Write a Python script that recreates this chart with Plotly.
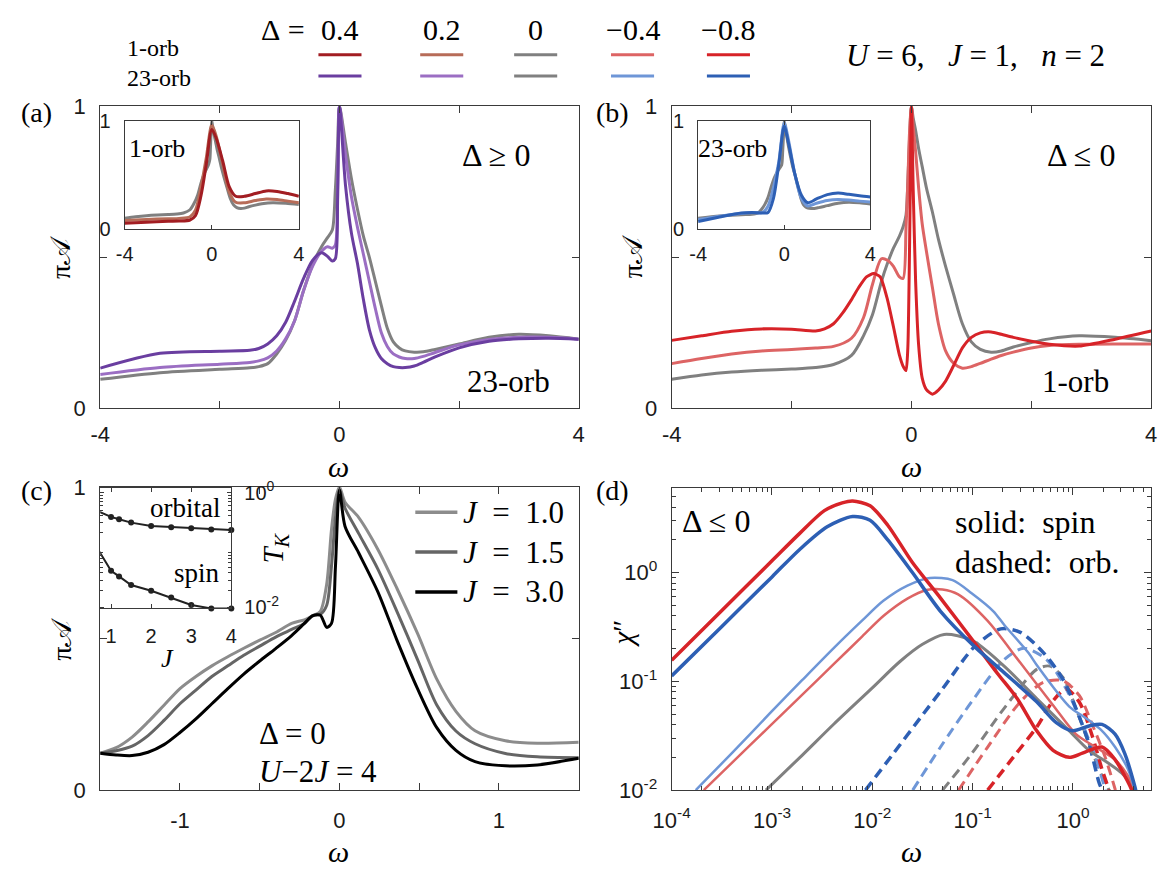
import plotly.graph_objects as go

W, H = 1165, 875
SERIF = "Liberation Serif"
SANS = "Liberation Sans"
AXC = "#3a3a3a"
NB = "\u00a0"

# ---------------- colours ----------------
C_GRAY = "#808080"
C_DRED = "#a21d22"   # 1-orb, Delta=0.4
C_BRWN = "#b76c58"   # 1-orb, Delta=0.2
C_LRED = "#dd6464"   # 1-orb, Delta=-0.4
C_RED = "#d72328"    # 1-orb, Delta=-0.8
C_DPUR = "#6a3ea0"   # 23-orb, Delta=0.4
C_LPUR = "#9b6ec3"   # 23-orb, Delta=0.2
C_LBLU = "#6e96d7"   # 23-orb, Delta=-0.4
C_BLU = "#2d5fb4"    # 23-orb, Delta=-0.8
C_J10 = "#8c8c8c"
C_J15 = "#656565"
C_J30 = "#000000"

# ---------------- data: panel (a), 23-orb, Delta >= 0 ----------------
omega_a = [-4, -3, -2, -1.5, -1.35, -1.2, -1.05, -0.9, -0.75, -0.6, -0.45, -0.3, -0.2, -0.12, -0.07,
           -0.03, 0, 0.1, 0.2, 0.3, 0.4, 0.5, 0.6, 0.7, 0.8, 0.9, 1.0, 1.1, 1.25, 1.4, 1.6, 2, 2.5, 3,
           3.5, 4]
A23_d0 = [0.096, 0.118, 0.129, 0.134, 0.138, 0.148, 0.18, 0.225, 0.29, 0.39, 0.475, 0.535, 0.565, 0.59,
          0.72, 0.88, 1.0,
          0.88, 0.76, 0.66, 0.57, 0.50, 0.42, 0.34, 0.265, 0.22, 0.20, 0.19, 0.186, 0.187, 0.195, 0.213,
          0.235, 0.245, 0.24, 0.229]
A23_d02 = [0.112, 0.135, 0.146, 0.152, 0.157, 0.167, 0.19, 0.23, 0.29, 0.39, 0.47, 0.52, 0.535, 0.53,
           0.54, 0.75, 1.0,
           0.84, 0.70, 0.60, 0.51, 0.42, 0.33, 0.25, 0.205, 0.18, 0.17, 0.165, 0.165, 0.172, 0.185, 0.21,
           0.228, 0.235, 0.235, 0.229]
A23_d04 = [0.133, 0.182, 0.189, 0.192, 0.198, 0.213, 0.24, 0.285, 0.355, 0.43, 0.49, 0.515, 0.503,
           0.488, 0.495, 0.70, 1.0,
           0.74, 0.58, 0.48, 0.36, 0.26, 0.20, 0.165, 0.148, 0.138, 0.135, 0.135, 0.14, 0.152, 0.17, 0.20,
           0.222, 0.23, 0.232, 0.229]

# ---------------- data: panel (b), 1-orb, Delta <= 0 ----------------
omega_b = [-4, -3.5, -3, -2.5, -2, -1.6, -1.3, -1.0, -0.8, -0.65, -0.5, -0.4, -0.3, -0.2, -0.14, -0.09,
           -0.06, -0.03, 0, 0.03, 0.07, 0.12, 0.18, 0.25, 0.35, 0.45, 0.57, 0.7, 0.85, 1.0, 1.15, 1.33,
           1.5, 1.7, 2.0, 2.3, 2.8, 3.4, 4]
A1_d0 = [0.096, 0.11, 0.12, 0.126, 0.13, 0.135, 0.145, 0.175, 0.24, 0.31, 0.42, 0.48, 0.53, 0.57, 0.60,
         0.64, 0.75, 0.9, 1.0, 0.96, 0.92, 0.86, 0.80, 0.73, 0.65, 0.56, 0.47, 0.38, 0.28, 0.22, 0.195,
         0.186, 0.19, 0.203, 0.218, 0.23, 0.24, 0.235, 0.224]
A1_dm04 = [0.148, 0.165, 0.18, 0.19, 0.195, 0.2, 0.205, 0.232, 0.3, 0.41, 0.495, 0.49, 0.47, 0.435, 0.43,
           0.6, 0.75, 0.92, 1.0, 0.93, 0.85, 0.73, 0.61, 0.52, 0.40, 0.28, 0.19, 0.15, 0.133, 0.138,
           0.149, 0.163, 0.175, 0.186, 0.2, 0.208, 0.212, 0.213, 0.213]
omega_b8 = [-4, -3.5, -3, -2.5, -2, -1.6, -1.45, -1.3, -1.15, -1.0, -0.88, -0.75, -0.63, -0.52, -0.4,
            -0.3, -0.2, -0.14, -0.09, -0.06, -0.03, 0, 0.03, 0.07, 0.12, 0.18, 0.25, 0.35, 0.45, 0.57,
            0.7, 0.85, 1.0, 1.15, 1.33, 1.5, 1.7, 2.0, 2.3, 2.8, 3.4, 4]
A1_dm08 = [0.225, 0.24, 0.255, 0.263, 0.262, 0.256, 0.263, 0.28, 0.315, 0.36, 0.40, 0.435, 0.446, 0.435,
           0.36, 0.27, 0.176, 0.14, 0.125, 0.2, 0.55, 1.0, 0.72, 0.42, 0.21, 0.10, 0.062, 0.047, 0.06,
           0.09, 0.14, 0.2, 0.235, 0.25, 0.253, 0.245, 0.235, 0.222, 0.212, 0.206, 0.229, 0.256]

# ---------------- data: insets of (a) and (b) ----------------
omega_in = [-4, -3, -2, -1.5, -1, -0.75, -0.5, -0.25, 0, 0.2, 0.5, 0.8, 1.1, 1.5, 2, 2.5, 3, 3.5, 4]
A1_d04 = [0.05, 0.06, 0.068, 0.07, 0.08, 0.12, 0.30, 0.6, 0.92, 0.84, 0.63, 0.39, 0.30, 0.30, 0.325,
          0.35, 0.345, 0.325, 0.30]
A1_d02 = [0.075, 0.085, 0.092, 0.095, 0.11, 0.17, 0.38, 0.66, 0.96, 0.86, 0.6, 0.34, 0.245, 0.24, 0.26,
          0.275, 0.27, 0.255, 0.24]
A23_dm08 = [0.066, 0.108, 0.145, 0.15, 0.145, 0.15, 0.28, 0.6, 0.95, 0.79, 0.50, 0.31, 0.24, 0.275,
            0.315, 0.33, 0.318, 0.305, 0.294]
A23_dm04 = [0.084, 0.115, 0.14, 0.147, 0.15, 0.21, 0.38, 0.62, 0.98, 0.82, 0.5, 0.28, 0.21, 0.235, 0.26,
            0.27, 0.265, 0.255, 0.246]

# ---------------- data: panel (c), Delta = 0, U-2J = 4 ----------------
omega_c = [-1.5, -1.4, -1.3, -1.2, -1.1, -1.0, -0.9, -0.8, -0.7, -0.6, -0.5, -0.4, -0.3, -0.22, -0.17,
           -0.12, -0.08, -0.05, -0.025, 0, 0.035, 0.12, 0.24, 0.36, 0.49, 0.61, 0.73, 0.85, 1.04, 1.24,
           1.5]
Ac_J10 = [0.122, 0.14, 0.175, 0.225, 0.28, 0.335, 0.375, 0.41, 0.44, 0.468, 0.495, 0.52, 0.55, 0.562,
          0.575, 0.59, 0.68, 0.86, 0.96, 1.0, 0.95, 0.9, 0.795, 0.666, 0.516, 0.366, 0.26, 0.196, 0.163,
          0.155, 0.158]
Ac_J15 = [0.122, 0.13, 0.145, 0.18, 0.23, 0.285, 0.33, 0.375, 0.41, 0.445, 0.475, 0.505, 0.53, 0.55,
          0.575, 0.58, 0.61, 0.74, 0.9, 0.99, 0.93, 0.847, 0.73, 0.59, 0.43, 0.281, 0.195, 0.153, 0.121,
          0.11, 0.107]
Ac_J30 = [0.122, 0.116, 0.114, 0.125, 0.15, 0.19, 0.235, 0.285, 0.335, 0.383, 0.426, 0.467, 0.51, 0.55,
          0.575, 0.577, 0.537, 0.55, 0.74, 0.99, 0.87, 0.783, 0.655, 0.495, 0.334, 0.206, 0.131, 0.094,
          0.08, 0.083, 0.105]

# inset of (c): Kondo temperatures (log10 values)
J_vals = [0.5, 1, 1.2, 1.5, 2, 2.5, 3, 3.5, 4]
logTK_orb = [-0.27, -0.42, -0.46, -0.52, -0.58, -0.60, -0.62, -0.64, -0.65]
logTK_spin = [-0.79, -1.36, -1.46, -1.61, -1.71, -1.83, -1.96, -2.02, -2.02]

# ---------------- data: panel (d), chi'' (log10 values) ----------------
lw_s_m08_1 = [-4, -3.5, -3.0, -2.724, -2.478, -2.3, -2.197, -2.022, -1.846, -1.6, -1.32, -0.969, -0.75,
              -0.556, -0.361, -0.198, -0.036, 0.095, 0.29, 0.42, 0.517, 0.582, 0.62]
lc_s_m08_1 = [-0.806, -0.35, 0.108, 0.36, 0.569, 0.64, 0.658, 0.613, 0.435, 0.092, -0.235, -0.66, -0.93,
              -1.158, -1.455, -1.634, -1.699, -1.66, -1.604, -1.72, -1.87, -1.99, -2.1]
lw_s_m08_23 = [-4, -3.5, -3.0, -2.724, -2.45, -2.197, -2.022, -1.846, -1.6, -1.32, -0.98, -0.686, -0.361,
               -0.166, -0.003, 0.16, 0.29, 0.42, 0.517, 0.615, 0.65]
lc_s_m08_23 = [-0.95, -0.495, -0.04, 0.212, 0.42, 0.515, 0.48, 0.30, 0.0, -0.356, -0.681, -0.92, -1.188,
               -1.38, -1.455, -1.41, -1.396, -1.486, -1.665, -1.96, -2.1]
lw_s_m04_23 = [-3.76, -3.4, -3.027, -2.7, -2.38, -2.1, -1.89, -1.65, -1.425, -1.2, -1.01, -0.793, -0.686,
               -0.442, -0.361, -0.036, 0.127, 0.29, 0.42, 0.55, 0.615, 0.65]
lc_s_m04_23 = [-2.0, -1.66, -1.30, -0.99, -0.69, -0.44, -0.26, -0.12, -0.05, -0.07, -0.19, -0.356, -0.48,
               -0.74, -0.85, -1.232, -1.337, -1.455, -1.604, -1.81, -1.99, -2.1]
lw_s_m04_1 = [-3.68, -3.4, -3.027, -2.7, -2.38, -2.1, -1.89, -1.65, -1.46, -1.3, -1.144, -0.85, -0.524,
              -0.198, 0.03, 0.224, 0.42, 0.55, 0.615, 0.65]
lc_s_m04_1 = [-2.0, -1.75, -1.416, -1.124, -0.838, -0.587, -0.40, -0.24, -0.16, -0.155, -0.2, -0.444,
              -0.83, -1.219, -1.485, -1.604, -1.72, -1.87, -1.99, -2.1]
lw_s_0 = [-3.06, -2.7, -2.38, -2.0, -1.727, -1.5, -1.285, -1.01, -0.686, -0.361, -0.036, 0.16, 0.355,
          0.485, 0.615, 0.65]
lc_s_0 = [-2.0, -1.68, -1.39, -1.06, -0.82, -0.66, -0.569, -0.622, -0.86, -1.158, -1.455, -1.634, -1.753,
          -1.842, -1.99, -2.1]
lw_o_m08_23 = [-2.068, -1.8, -1.5, -1.30, -0.98, -0.72, -0.524, -0.29, -0.1, 0.03, 0.16, 0.26, 0.29, 0.32]
lc_o_m08_23 = [-2.0, -1.676, -1.31, -1.069, -0.68, -0.518, -0.55, -0.741, -0.98, -1.248, -1.574, -1.93,
               -2.0, -2.1]
lw_o_m04_23 = [-1.597, -1.32, -1.01, -0.686, -0.49, -0.263, -0.068, 0.095, 0.224, 0.32, 0.35]
lc_o_m04_23 = [-2.0, -1.604, -1.188, -0.8, -0.696, -0.8, -1.069, -1.395, -1.694, -1.99, -2.1]
lw_o_0 = [-1.3, -1.01, -0.686, -0.361, -0.23, -0.1, 0.03, 0.16, 0.29, 0.355, 0.38]
lc_o_0 = [-2.0, -1.665, -1.248, -0.89, -0.86, -0.964, -1.248, -1.574, -1.87, -1.99, -2.1]
lw_o_m04_1 = [-1.14, -0.85, -0.524, -0.296, -0.1, 0.063, 0.192, 0.32, 0.42, 0.45]
lc_o_m04_1 = [-2.0, -1.604, -1.188, -1.009, -0.994, -1.13, -1.396, -1.694, -1.99, -2.1]
lw_o_m08_1 = [-0.85, -0.588, -0.361, -0.198, -0.068, 0.063, 0.192, 0.29, 0.355, 0.38]
lc_o_m08_1 = [-2.0, -1.69, -1.42, -1.18, -1.07, -1.19, -1.5, -1.81, -1.99, -2.1]

# legend labels
delta_labels = ["0.4", "0.2", "0", "\u22120.4", "\u22120.8"]
row1_colors = [C_DRED, C_BRWN, C_GRAY, C_LRED, C_RED]
row2_colors = [C_DPUR, C_LPUR, C_GRAY, C_LBLU, C_BLU]
J_labels = ["1.0", "1.5", "3.0"]
J_colors = [C_J10, C_J15, C_J30]


def pw(v):
    return [10 ** x for x in v]


fig = go.Figure()


def add(x, y, color, width, xa, ya, dash=None, smoothing=0.8):
    fig.add_trace(go.Scatter(
        x=x, y=y, mode="lines",
        line=dict(color=color, width=width, dash=dash, shape="spline", smoothing=smoothing),
        xaxis=xa, yaxis=ya, showlegend=False, hoverinfo="skip"))


# (a) main
add(omega_a, A23_d0, C_GRAY, 3, "x", "y")
add(omega_a, A23_d02, C_LPUR, 3, "x", "y")
add(omega_a, A23_d04, C_DPUR, 3, "x", "y")
# (a) inset (1-orb)
add(omega_b, A1_d0, C_GRAY, 3, "x2", "y2")
add(omega_in, A1_d02, C_BRWN, 3, "x2", "y2")
add(omega_in, A1_d04, C_DRED, 3, "x2", "y2")
# (b) main
add(omega_b, A1_d0, C_GRAY, 3, "x3", "y3")
add(omega_b, A1_dm04, C_LRED, 3, "x3", "y3")
add(omega_b8, A1_dm08, C_RED, 3, "x3", "y3", smoothing=0.6)
# (b) inset (23-orb)
add(omega_a, A23_d0, C_GRAY, 3, "x4", "y4")
add(omega_in, A23_dm04, C_LBLU, 3, "x4", "y4")
add(omega_in, A23_dm08, C_BLU, 3, "x4", "y4")
# (c) main
add(omega_c, Ac_J10, C_J10, 3, "x5", "y5")
add(omega_c, Ac_J15, C_J15, 3, "x5", "y5")
add(omega_c, Ac_J30, C_J30, 3, "x5", "y5")
# (c) inset
for lt in (logTK_orb, logTK_spin):
    fig.add_trace(go.Scatter(x=J_vals, y=pw(lt), mode="lines", line=dict(color="#222", width=2),
                             xaxis="x6", yaxis="y6", showlegend=False, hoverinfo="skip"))
    fig.add_trace(go.Scatter(x=J_vals[1:], y=pw(lt[1:]), mode="markers",
                             marker=dict(color="#222", size=6), cliponaxis=False,
                             xaxis="x6", yaxis="y6", showlegend=False, hoverinfo="skip"))
# (d)
DASH = "10px,6px"
add(pw(lw_o_0), pw(lc_o_0), C_GRAY, 3, "x7", "y7", dash=DASH)
add(pw(lw_o_m04_1), pw(lc_o_m04_1), C_LRED, 3, "x7", "y7", dash=DASH)
add(pw(lw_o_m04_23), pw(lc_o_m04_23), C_LBLU, 3, "x7", "y7", dash=DASH)
add(pw(lw_o_m08_1), pw(lc_o_m08_1), C_RED, 3.5, "x7", "y7", dash=DASH)
add(pw(lw_o_m08_23), pw(lc_o_m08_23), C_BLU, 3.5, "x7", "y7", dash=DASH)
add(pw(lw_s_0), pw(lc_s_0), C_GRAY, 3, "x7", "y7")
add(pw(lw_s_m04_1), pw(lc_s_m04_1), C_LRED, 2.5, "x7", "y7")
add(pw(lw_s_m04_23), pw(lc_s_m04_23), C_LBLU, 2.5, "x7", "y7")
add(pw(lw_s_m08_1), pw(lc_s_m08_1), C_RED, 3.5, "x7", "y7")
add(pw(lw_s_m08_23), pw(lc_s_m08_23), C_BLU, 3.5, "x7", "y7")


# ---------------- axes ----------------
def xd(a, b):
    return [a / W, b / W]


def yd(top, bot):
    return [1 - bot / H, 1 - top / H]


def axis(domain, anchor, size=22, ticklen=7, standoff=10, **kw):
    d = dict(domain=domain, anchor=anchor, showline=True, linecolor=AXC, linewidth=1, mirror="ticks",
             ticks="inside", ticklen=ticklen, tickwidth=1, tickcolor=AXC, showgrid=False,
             zeroline=False, fixedrange=True, ticklabelstandoff=standoff,
             tickfont=dict(family=SANS, size=size, color="#1a1a1a"))
    d.update(kw)
    return d


xA = dict(range=[-4, 4], tickvals=[-4, -2, 0, 2, 4], ticktext=["-4", "", "0", "", "4"])
yA = dict(range=[0, 1], tickvals=[0, 0.5, 1], ticktext=["0", "", "1"])
xI = dict(range=[-4, 4], tickvals=[-4, 0, 4], ticktext=["-4", "0", "4"])
yI = dict(range=[0, 1], tickvals=[0, 1], ticktext=["0", "1"])

dec = [m * 10 ** e for e in range(-4, 1) for m in range(2, 10)]
minor_log = dict(ticks="inside", ticklen=4, tickcolor=AXC, showgrid=False)

layout = dict(
    width=W, height=H, margin=dict(l=0, r=0, t=0, b=0),
    paper_bgcolor="white", plot_bgcolor="white", showlegend=False,
    xaxis=axis(xd(83, 572), "y", standoff=6, **xA),
    yaxis=axis(yd(97, 408), "x", standoff=9, **yA),
    xaxis2=axis(xd(108, 286), "y2", size=20, ticklen=4, standoff=7, **xI),
    yaxis2=axis(yd(112, 223), "x2", size=20, ticklen=4, standoff=9, **yI),
    xaxis3=axis(xd(667, 1157), "y3", standoff=6, **xA),
    yaxis3=axis(yd(97, 408), "x3", standoff=9, **yA),
    xaxis4=axis(xd(694, 870), "y4", size=20, ticklen=4, standoff=7, **xI),
    yaxis4=axis(yd(112, 223), "x4", size=20, ticklen=4, standoff=9, **yI),
    xaxis5=axis(xd(83, 572), "y5", standoff=10, range=[-1.5, 1.5],
                tickvals=[-1.5, -1, -0.5, 0, 0.5, 1, 1.5], ticktext=["", "-1", "", "0", "", "1", ""]),
    yaxis5=axis(yd(489, 801), "x5", standoff=9, **yA),
    xaxis6=axis(xd(83, 217), "y6", size=20, ticklen=4, standoff=10, range=[0.73, 4.0],
                tickvals=[1, 2, 3, 4], ticktext=["1", "2", "3", "4"]),
    yaxis6=axis(yd(490, 614), "x6", size=20, ticklen=4, standoff=8, type="log", side="right",
                range=[-2.02, 0.085], tickvals=[0.01, 1],
                ticktext=["10<sup>-2</sup>", "10<sup>0</sup>"],
                minor=dict(ticks="inside", ticklen=3, tickcolor=AXC, showgrid=False,
                           tickvals=[m * 10 ** e for e in (-2, -1) for m in range(2, 10)])),
    xaxis7=axis(xd(667, 1157), "y7", standoff=10, type="log", range=[-4, 0.78],
                tickvals=[1e-4, 1e-3, 1e-2, 1e-1, 1],
                ticktext=["10<sup>-4</sup>", "10<sup>-3</sup>", "10<sup>-2</sup>", "10<sup>-1</sup>",
                          "10<sup>0</sup>"],
                minor=dict(minor_log, tickvals=dec)),
    yaxis7=axis(yd(490, 801), "x7", standoff=9, type="log", range=[-2, 0.777], tickvals=[0.01, 0.1, 1],
                ticktext=["10<sup>-2</sup>", "10<sup>-1</sup>", "10<sup>0</sup>"],
                minor=dict(minor_log, tickvals=[m * 10 ** e for e in (-2, -1, 0) for m in range(2, 10)])),
)


# ---------------- annotations ----------------
def ann(text, x, y, size=26, xanchor="center", angle=0, family=SERIF):
    return dict(text=text, x=x / W, y=1 - y / H, xref="paper", yref="paper", showarrow=False,
                font=dict(family=family, size=size, color="black"), xanchor=xanchor,
                yanchor="middle", textangle=angle)


anns = []
anns.append(ann("1-orb", 108, 37, size=24, xanchor="left"))
anns.append(ann("23-orb", 108, 68, size=24, xanchor="left"))
anns.append(ann("\u0394" + NB + "=", 270, 18, size=30))
leg_x = [328, 432, 528, 627, 725]
for xc, lab in zip(leg_x, delta_labels):
    anns.append(ann(lab, xc, 18, size=30))
anns.append(ann("<i>U</i>" + NB + "=" + NB + "6," + NB * 3 + "<i>J</i>" + NB + "=" + NB + "1,"
                + NB * 3 + "<i>n</i>" + NB + "=" + NB + "2", 977, 45, size=31))
for lab, x, y in (("(a)", 0, 103), ("(b)", 588, 103), ("(c)", 0, 493), ("(d)", 588, 493)):
    anns.append(ann(lab, x, y, size=28, xanchor="left"))
anns.append(ann("\u0394 \u2265 0", 487, 147, size=32))
anns.append(ann("23-orb", 500, 380, size=31))
anns.append(ann("\u0394 \u2264 0", 1085, 147, size=32))
anns.append(ann("1-orb", 1080, 380, size=31))
anns.append(ann("1-orb", 141, 140, size=26))
anns.append(ann("23-orb", 729, 140, size=26))
anns.append(ann("\u0394 = 0", 243, 743, size=31, xanchor="left"))
anns.append(ann("<i>U</i>\u22122<i>J</i> = 4", 243, 782, size=31, xanchor="left"))
anns.append(ann("orbital", 207, 511, size=27, xanchor="right"))
anns.append(ann("spin", 207, 577, size=27, xanchor="right"))
for i, lab in enumerate(J_labels):
    anns.append(ann("<i>J</i>" + NB * 2 + "=" + NB * 2 + lab, 452, 515 + 41 * i, size=31,
                    xanchor="left"))
anns.append(ann("\u0394 \u2264 0", 676, 524, size=32, xanchor="left"))
anns.append(ann("solid:" + NB * 2 + "spin", 954, 525, size=32, xanchor="left"))
anns.append(ann("dashed:" + NB * 2 + "orb.", 954, 566, size=32, xanchor="left"))
for x, y in ((327, 468), (912, 468), (327, 864), (912, 864)):
    anns.append(ann("<i>\u03c9</i>", x, y, size=30))
for x, y in ((43, 252), (627, 252), (43, 645)):
    anns.append(ann("\u03c0\U0001D49C", x, y, size=28, angle=-90))
anns.append(ann("<i>\u03c7</i>\u2033", 617, 640, size=29, angle=-90))
anns.append(ann("<i>J</i>", 152, 665, size=26))
anns.append(ann("<i>T</i><sub><i>K</i></sub>", 262, 552, size=29, angle=-90))
layout["annotations"] = anns

# legend sample lines (paper coordinates)
shapes = []
for xc, c1, c2 in zip(leg_x, row1_colors, row2_colors):
    for yy, cc in ((44, c1), (66, c2)):
        shapes.append(dict(type="line", xref="paper", yref="paper", x0=(xc - 22) / W, x1=(xc + 22) / W,
                           y0=1 - yy / H, y1=1 - yy / H, line=dict(color=cc, width=3)))
for i, cc in enumerate(J_colors):
    yy = 515 + 41 * i
    shapes.append(dict(type="line", xref="paper", yref="paper", x0=405 / W, x1=448 / W,
                       y0=1 - yy / H, y1=1 - yy / H, line=dict(color=cc, width=3.5)))
layout["shapes"] = shapes

fig.update_layout(**layout)
fig.write_html("out.html")
